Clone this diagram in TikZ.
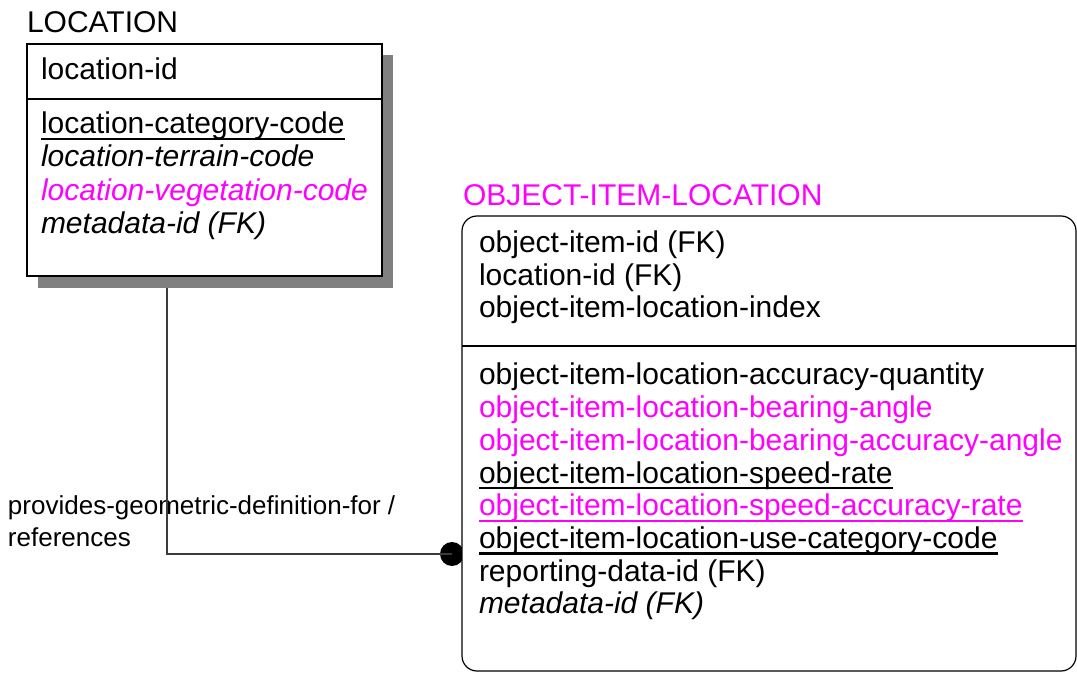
\documentclass[tikz,border=0pt]{standalone}
\usepackage{fontspec}
\setmainfont{Liberation Sans}
\definecolor{mag}{RGB}{255,0,255}
\definecolor{shadowgray}{RGB}{128,128,128}
\definecolor{lnc}{RGB}{60,60,60}
\newcommand\myul[1]{\leavevmode\setbox0\hbox{#1}\rlap{\rule[-3.2pt]{\wd0}{1.2pt}}\box0}
\begin{document}
\begin{tikzpicture}[x=0.5pt,y=-0.5pt,
  every node/.style={inner sep=0pt,outer sep=0pt},
  attr/.style={anchor=base west,font=\fontsize{15}{18}\selectfont},
  lbl/.style={anchor=base west,font=\fontsize{13}{16}\selectfont},
  ent/.style={draw=black,line width=0.6pt,fill=white},
  conn/.style={draw=lnc,line width=0.6pt}]
\useasboundingbox (0,0) rectangle (1077,673);
% relationship label
\node[lbl] (r1) at (8,515) {provides-geometric-definition-for /};
\node[lbl] (r2) at (8,547) {references};
% connector
\node[circle,fill=black,minimum size=12pt] (dot) at (452,554) {};
\node[anchor=center,minimum size=0pt] (loca) at (167,276) {};
\draw[conn] (loca.center) |- (dot.center);
% LOCATION entity
\fill[fill=shadowgray] (38,55) rectangle (393,288);
\node[ent,minimum width=177.5pt,minimum height=116pt] (loc) at (204.5,160) {};
\draw[line width=0.6pt] (loc.west |- 0,99) -- (loc.east |- 0,99);
\node[attr] (loct) at (27,33) {LOCATION};
\node[attr] (l1) at (41,80) {location-id};
\node[attr] (l2) at (41,134) {\myul{location-category-code}};
\node[attr] (l3) at (41,167) {\itshape location-terrain-code};
\node[attr,text=mag] (l4) at (41,200.5) {\itshape location-vegetation-code};
\node[attr] (l5) at (41,234) {\itshape metadata-id (FK)};
% OBJECT-ITEM-LOCATION entity
\node[ent,rounded corners=7.5pt,minimum width=307pt,minimum height=227.5pt] (oil) at (769,443.5) {};
\draw[line width=0.6pt] (oil.west |- 0,346) -- (oil.east |- 0,346);
\node[attr,text=mag] (oilt) at (463,206) {OBJECT-ITEM-LOCATION};
\node[attr] (o1) at (479,253) {object-item-id (FK)};
\node[attr] (o2) at (479,285.5) {location-id (FK)};
\node[attr] (o3) at (479,318) {object-item-location-index};
\node[attr] (o4) at (479,385) {object-item-location-accuracy-quantity};
\node[attr,text=mag] (o5) at (479,417.7) {object-item-location-bearing-angle};
\node[attr,text=mag] (o6) at (479,450.4) {object-item-location-bearing-accuracy-angle};
\node[attr] (o7) at (479,483.1) {\myul{object-item-location-speed-rate}};
\node[attr,text=mag] (o8) at (479,515.8) {\myul{object-item-location-speed-accuracy-rate}};
\node[attr] (o9) at (479,548.5) {\myul{object-item-location-use-category-code}};
\node[attr] (o10) at (479,581.2) {reporting-data-id (FK)};
\node[attr] (o11) at (479,613.9) {\itshape metadata-id (FK)};
\end{tikzpicture}
\end{document}
